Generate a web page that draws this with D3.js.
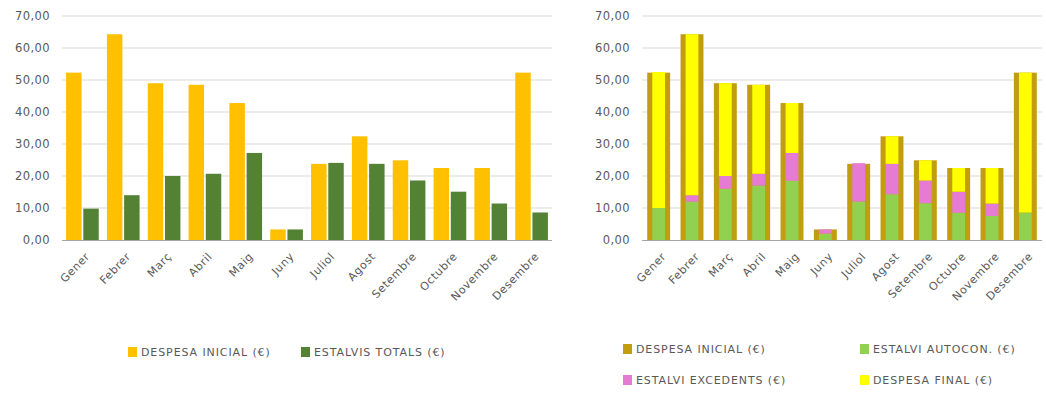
<!DOCTYPE html>
<html>
<head>
<meta charset="utf-8">
<script src="https://cdn.jsdelivr.net/npm/d3@7"></script>
<style>
  html, body { margin: 0; padding: 0; background: #ffffff; }
  svg { display: block; font-family: "DejaVu Sans", "Liberation Sans", sans-serif; }
  .tick text, .lbl { fill: #595959; }
</style>
</head>
<body>
<svg id="chart" width="1046" height="396"></svg>
<script>
// Months of the year (Catalan)
const mesos = ["Gener", "Febrer", "Març", "Abril", "Maig", "Juny", "Juliol",
               "Agost", "Setembre", "Octubre", "Novembre", "Desembre"];

// Monthly initial spending (€)
const despesaInicial = [52.3, 64.3, 49.0, 48.5, 42.8, 3.3, 23.8, 32.4, 24.9, 22.5, 22.5, 52.3];
// Total monthly savings (€)
const estalvisTotals = [9.8, 14.0, 20.0, 20.7, 27.2, 3.3, 24.1, 23.8, 18.6, 15.1, 11.4, 8.6];
// Savings from self-consumption (€)
const estalviAutocon = [10.0, 12.0, 16.0, 17.0, 18.5, 2.0, 12.0, 14.3, 11.5, 8.5, 7.5, 8.6];
// Savings from surplus energy (€)
const estalviExcedents = [0.0, 2.0, 4.0, 3.7, 8.7, 1.3, 12.0, 9.5, 7.1, 6.6, 3.9, 0.0];
// Final spending after savings (€)
const despesaFinal = [42.5, 50.3, 29.0, 27.8, 15.6, 0.0, 0.0, 8.6, 6.3, 7.4, 11.1, 43.7];

// Y axis ticks
const yTicks = [0, 10, 20, 30, 40, 50, 60, 70];

const C = {
  gold: "#FFC000",
  darkGreen: "#548235",
  backGold: "#C29D10",
  lightGreen: "#92D050",
  pink: "#E57BD3",
  yellow: "#FFFF00",
  grid: "#D9D9D9",
  axis: "#A6A6A6"
};

const svg = d3.select("#chart");
const fmt = v => d3.format(".2f")(v).replace(".", ",");

function frame(x0, x1, labelX) {
  const y = d3.scaleLinear().domain([0, 70]).range([240, 16]);
  const x = d3.scaleBand().domain(mesos).range([x0, x1]).paddingInner(0.2).paddingOuter(0.1);
  const g = svg.append("g");

  // gridlines
  g.append("g").selectAll("line").data(yTicks.filter(d => d > 0)).join("line")
    .attr("x1", x0).attr("x2", x1)
    .attr("y1", d => y(d)).attr("y2", d => y(d))
    .attr("stroke", C.grid).attr("stroke-width", 1);

  // y axis labels
  const ya = g.append("g").attr("transform", `translate(${labelX},0)`)
    .call(d3.axisLeft(y).tickValues(yTicks).tickFormat(fmt).tickSize(0).tickPadding(0));
  ya.select(".domain").remove();
  ya.selectAll("text").attr("font-size", 11.5).attr("font-family", "DejaVu Sans")
    .attr("letter-spacing", 0.4);

  return { g, x, y, x0, x1 };
}

function baseline(f) {
  f.g.append("line").attr("x1", f.x0).attr("x2", f.x1)
    .attr("y1", f.y(0) + 0.5).attr("y2", f.y(0) + 0.5)
    .attr("stroke", C.axis).attr("stroke-width", 1);
}

function monthLabels(f) {
  f.g.append("g").selectAll("text").data(mesos).join("text")
    .attr("class", "lbl")
    .attr("font-size", 11)
    .attr("letter-spacing", 0.6)
    .attr("text-anchor", "end")
    .attr("transform", d => `translate(${f.x(d) + f.x.bandwidth() / 2 + 8},${f.y(0) + 17}) rotate(-46)`)
    .text(d => d);
}

function legendItem(x, yTop, color, text) {
  svg.append("rect").attr("x", x).attr("y", yTop).attr("width", 9).attr("height", 10).attr("fill", color);
  svg.append("text").attr("class", "lbl").attr("x", x + 13).attr("y", yTop + 9)
    .attr("font-size", 11).attr("letter-spacing", 0.9).text(text);
}

// ---- Left chart: initial spending vs total savings ----
const L = frame(62, 552, 50);
const sub = d3.scaleBand().domain([0, 1]).range([0, L.x.bandwidth()]).paddingInner(0.1);
const seriesL = [despesaInicial, estalvisTotals];
const colorsL = [C.gold, C.darkGreen];
seriesL.forEach((vals, si) => {
  L.g.append("g").selectAll("rect").data(mesos).join("rect")
    .attr("x", (d) => L.x(d) + sub(si))
    .attr("width", sub.bandwidth())
    .attr("y", (d, i) => L.y(vals[i]))
    .attr("height", (d, i) => L.y(0) - L.y(vals[i]))
    .attr("fill", colorsL[si]);
});
baseline(L);
monthLabels(L);
legendItem(128, 347, C.gold, "DESPESA INICIAL (€)");
legendItem(301, 347, C.darkGreen, "ESTALVIS TOTALS (€)");

// ---- Right chart: initial spending behind the savings/final stack ----
const R = frame(642, 1042, 630);
const backW = R.x.bandwidth() * 0.86;
const frontW = R.x.bandwidth() * 0.48;

R.g.append("g").selectAll("rect").data(mesos).join("rect")
  .attr("x", d => R.x(d) + (R.x.bandwidth() - backW) / 2)
  .attr("width", backW)
  .attr("y", (d, i) => R.y(despesaInicial[i]))
  .attr("height", (d, i) => R.y(0) - R.y(despesaInicial[i]))
  .attr("fill", C.backGold);

const stackKeys = ["autocon", "excedents", "final"];
const stackColors = { autocon: C.lightGreen, excedents: C.pink, final: C.yellow };
const rows = mesos.map((m, i) => ({
  mes: m, autocon: estalviAutocon[i], excedents: estalviExcedents[i], final: despesaFinal[i]
}));
const stacked = d3.stack().keys(stackKeys)(rows);
stacked.forEach(layer => {
  R.g.append("g").selectAll("rect").data(layer).join("rect")
    .attr("x", d => R.x(d.data.mes) + (R.x.bandwidth() - frontW) / 2)
    .attr("width", frontW)
    .attr("y", d => R.y(d[1]))
    .attr("height", d => R.y(d[0]) - R.y(d[1]))
    .attr("fill", stackColors[layer.key]);
});
baseline(R);
monthLabels(R);
legendItem(623, 344, C.backGold, "DESPESA INICIAL (€)");
legendItem(860, 344, C.lightGreen, "ESTALVI AUTOCON. (€)");
legendItem(623, 375, C.pink, "ESTALVI EXCEDENTS (€)");
legendItem(860, 375, C.yellow, "DESPESA FINAL (€)");
</script>
</body>
</html>
